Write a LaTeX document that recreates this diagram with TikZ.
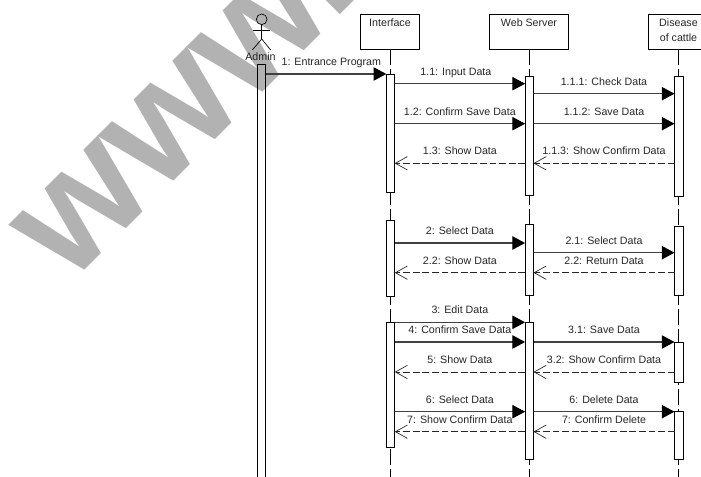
\documentclass[tikz,border=0pt]{standalone}
\usepackage{fontspec}
\setmainfont{Liberation Sans}
\usepackage{xcolor}
\usetikzlibrary{arrows.meta,positioning}
\definecolor{markgray}{HTML}{B2B2B2}
\definecolor{inkgray}{HTML}{262626}

\begin{document}
\begin{tikzpicture}[
    x=0.75pt,y=-0.75pt,
    every node/.style={font=\fontsize{8}{11.25}\selectfont,text=inkgray},
    lifehead/.style={rectangle,draw=black,line width=0.6pt,outer sep=0pt,
                    minimum height=26.25pt},
    headtext/.style={anchor=north,align=center,inner sep=0pt,yshift=-2.8pt},
    actbox/.style ={rectangle,draw=black,fill=white,line width=0.6pt,
                    inner sep=0pt,outer sep=0pt,minimum width=6.3pt},
    lifeline/.style={black,line width=0.6pt,dash pattern=on 11.5pt off 3.5pt},
    callarr/.style={-{Triangle[length=9.5pt,width=10pt,color=black]},black!75,line width=0.8pt},
    backarr/.style={-{Straight Barb[length=9pt,width=10pt,line width=0.5pt]},
                    black!85,line width=0.6pt,dash pattern=on 5pt off 2.2pt},
    msgtext/.style={above=4.4pt,inner sep=0pt,text height=5.8pt,text depth=1.7pt},
  ]
  \path[use as bounding box,clip] (0,0) rectangle (701,477);

  % Watermark behind everything
  \node[anchor=base west,rotate=45,inner sep=0pt,text=markgray,
        font=\fontsize{121.5}{130}\selectfont\bfseries] (mark) at (69,286) {www.};

  % Actor
  \node[circle,draw=black,line width=0.5pt,inner sep=0pt,minimum size=8pt] (adminhead) at (261.7,19.3) {};
  \coordinate (adminhip) at (261.7,39);
  \coordinate (adminarml) at (252.7,30.3);
  \coordinate (adminarmr) at (270.3,30.3);
  \coordinate (adminlegl) at (252.3,50);
  \coordinate (adminlegr) at (270.7,50);
  \draw[line width=0.5pt] (adminhead) -- (adminhip);
  \draw[line width=0.5pt] (adminarml) -- (adminarmr);
  \draw[line width=0.5pt] (adminlegl) -- (adminhip) -- (adminlegr);
  \node[inner sep=0pt] (adminname) at (260.5,57) {Admin};

  % Lifeline heads
  \node[lifehead,minimum width=44pt] (IF) at (390,31.8) {};
  \node[lifehead,minimum width=59pt] (WS) at (529,31.8) {};
  \node[lifehead,minimum width=44.5pt] (DC) at (678.5,31.8) {};
  \node[headtext] (IFname) at (IF.north) {Interface};
  \node[headtext] (WSname) at (WS.north) {Web Server};
  \node[headtext] (DCname) at (DC.north) {Disease\\of cattle};

  % Lifelines down to the page edge
  \coordinate (IFend) at (390,477);
  \coordinate (WSend) at (529,477);
  \coordinate (DCend) at (678.5,477);
  \draw[lifeline] (IF) -- (IFend);
  \draw[lifeline] (WS) -- (WSend);
  \draw[lifeline] (DC) -- (DCend);

  % Activation boxes
  \node[actbox,fill=none,minimum height=426*0.75pt] (A1) at (261.5,277) {};
  \node[actbox,minimum height=118.3*0.75pt] (I1) at (390.5,133.2) {};
  \node[actbox,minimum height=76*0.75pt] (I2) at (390.5,258.7) {};
  \node[actbox,minimum height=125*0.75pt] (I3) at (390.5,384.8) {};
  \node[actbox,minimum height=119.3*0.75pt] (W1) at (529.3,135.7) {};
  \node[actbox,minimum height=71.3*0.75pt] (W2) at (529.3,259.7) {};
  \node[actbox,minimum height=137.4*0.75pt] (W3) at (529.3,391) {};
  \node[actbox,minimum height=120.3*0.75pt] (D1) at (678.7,136.2) {};
  \node[actbox,minimum height=68.6*0.75pt] (D2) at (678.7,261) {};
  \node[actbox,minimum height=40.4*0.75pt] (D3) at (678.7,362.5) {};
  \node[actbox,minimum height=48*0.75pt] (D4) at (678.7,435.7) {};

  % First block
  \draw[callarr] (A1.east |- 0,74) -- node[msgtext,xshift=4pt] (m1) {1: Entrance Program} (I1.west |- 0,74);
  \draw[callarr] (I1.east |- 0,83.7) -- node[msgtext,xshift=-3pt] (m11) {1.1: Input Data} (W1.west |- 0,83.7);
  \draw[callarr] (W1.east |- 0,93.7) -- node[msgtext] (m111) {1.1.1: Check Data} (D1.west |- 0,93.7);
  \draw[callarr] (I1.east |- 0,123.7) -- node[msgtext] (m12) {1.2: Confirm Save Data} (W1.west |- 0,123.7);
  \draw[callarr] (W1.east |- 0,123.7) -- node[msgtext] (m112) {1.1.2: Save Data} (D1.west |- 0,123.7);
  \draw[backarr] (W1.west |- 0,163.3) -- node[msgtext] (m13) {1.3: Show Data} (I1.east |- 0,163.3);
  \draw[backarr] (D1.west |- 0,163.3) -- node[msgtext] (m113) {1.1.3: Show Confirm Data} (W1.east |- 0,163.3);

  % Second block
  \draw[callarr] (I2.east |- 0,243) -- node[msgtext] (m2) {2: Select Data} (W2.west |- 0,243);
  \draw[callarr] (W2.east |- 0,252.7) -- node[msgtext] (m21) {2.1: Select Data} (D2.west |- 0,252.7);
  \draw[backarr] (W2.west |- 0,272.7) -- node[msgtext] (m22a) {2.2: Show Data} (I2.east |- 0,272.7);
  \draw[backarr] (D2.west |- 0,272.7) -- node[msgtext] (m22b) {2.2: Return Data} (W2.east |- 0,272.7);

  % Third block
  \draw[callarr] (I3.east |- 0,322.3) -- node[msgtext] (m3) {3: Edit Data} (W3.west |- 0,322.3);
  \draw[callarr] (I3.east |- 0,342) -- node[msgtext] (m4) {4: Confirm Save Data} (W3.west |- 0,342);
  \draw[callarr] (W3.east |- 0,342) -- node[msgtext] (m31) {3.1: Save Data} (D3.west |- 0,342);
  \draw[backarr] (W3.west |- 0,372) -- node[msgtext] (m5) {5: Show Data} (I3.east |- 0,372);
  \draw[backarr] (D3.west |- 0,372) -- node[msgtext] (m32) {3.2: Show Confirm Data} (W3.east |- 0,372);
  \draw[callarr] (I3.east |- 0,411.7) -- node[msgtext] (m6a) {6: Select Data} (W3.west |- 0,411.7);
  \draw[callarr] (W3.east |- 0,411.7) -- node[msgtext] (m6b) {6: Delete Data} (D4.west |- 0,411.7);
  \draw[backarr] (W3.west |- 0,431.7) -- node[msgtext] (m7a) {7: Show Confirm Data} (I3.east |- 0,431.7);
  \draw[backarr] (D4.west |- 0,431.7) -- node[msgtext] (m7b) {7: Confirm Delete} (W3.east |- 0,431.7);
\end{tikzpicture}
\end{document}
